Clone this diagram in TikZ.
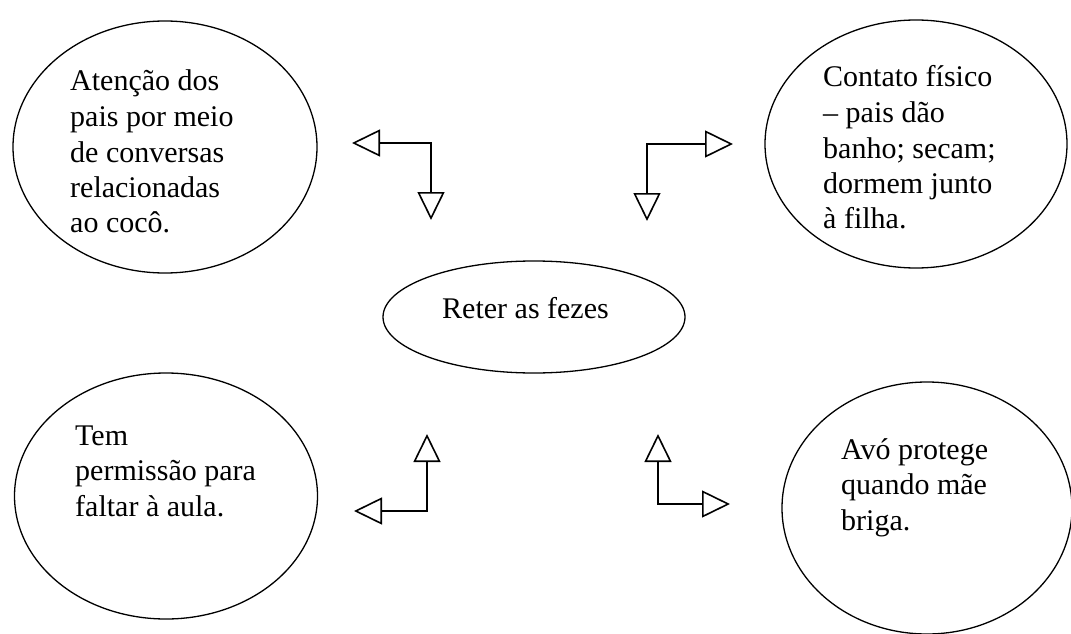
\documentclass[tikz,border=0pt]{standalone}
\usepackage{fontspec}
\setmainfont{Liberation Serif}
\usetikzlibrary{shapes.geometric,arrows.meta}
\newcommand\mylines[1]{\vtop{\baselineskip=35.5pt\halign{##\hfil\cr#1\crcr}}}
\tikzset{
  bubble/.style={draw, ellipse, line width=1.3pt, inner sep=0pt},
  label/.style={anchor=base west, inner sep=0pt, font=\fontsize{30}{35.5}\selectfont},
  link/.style={line width=1.6pt, {Triangle[open,length=28pt,width=27pt,line width=1.6pt]}-{Triangle[open,length=28pt,width=27pt,line width=1.6pt]}}
}
\begin{document}
\begin{tikzpicture}[x=1pt,y=-1pt]
\useasboundingbox[fill=white] (0,0) rectangle (1071,634);
% ellipses
\node[bubble, minimum width=304pt, minimum height=252pt] (tl) at (165,147) {};
\node[bubble, minimum width=302pt, minimum height=248pt] (tr) at (916,144) {};
\node[bubble, minimum width=303pt, minimum height=246pt] (bl) at (166,496) {};
\node[bubble, minimum width=290pt, minimum height=252pt] (br) at (927,508) {};
\node[bubble, minimum width=302pt, minimum height=112pt] (c) at (534,317) {};
% texts
\node[label] (tlt) at (70,91) {\mylines{Atenção dos\cr pais por meio\cr de conversas\cr relacionadas\cr ao cocô.}};
\node[label] (trt) at (823,87) {\mylines{Contato físico\cr – pais dão\cr banho; secam;\cr dormem junto\cr à filha.}};
\node[label] (blt) at (75,445) {\mylines{Tem\cr permissão para\cr faltar à aula.}};
\node[label] (brt) at (841,459) {\mylines{Avó protege\cr quando mãe\cr briga.}};
\node[label] (ct) at (442,318) {Reter as fezes};
% arrows
\coordinate (a1) at (352,143); \coordinate (k1) at (431,143); \coordinate (b1) at (431,220);
\coordinate (a2) at (733,144); \coordinate (k2) at (647,144); \coordinate (b2) at (647,221);
\coordinate (a3) at (354,511); \coordinate (k3) at (427,511); \coordinate (b3) at (427,434);
\coordinate (a4) at (730,504); \coordinate (k4) at (658,504); \coordinate (b4) at (658,434);
\draw[link] (a1) -- (k1) -- (b1);
\draw[link] (a2) -- (k2) -- (b2);
\draw[link] (a3) -- (k3) -- (b3);
\draw[link] (a4) -- (k4) -- (b4);
\end{tikzpicture}
\end{document}
